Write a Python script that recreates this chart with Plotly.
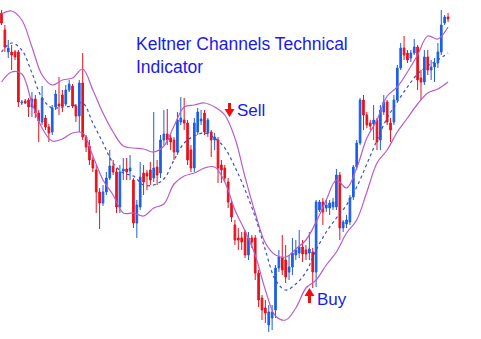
import plotly.graph_objects as go

# ---- candle data (price units) ----
opens = [327,310,288,288,288,288,237,239,240,233,241,227,218,222,213,208,233,236,245,236,
         250,254,234,224,257,203,194,180,170,148,137,148,162,174,168,133,169,171,169,160,
         117,133,167,167,170,162,173,167,200,206,202,200,188,218,220,217,190,172,208,219,
         227,207,208,200,200,175,172,158,137,115,102,102,108,85,102,102,67,42,32,15,
         22,30,72,82,80,68,73,85,87,93,90,87,88,68,130,138,132,132,133,133,
         165,112,116,118,143,173,197,240,225,217,216,220,200,228,238,217,218,240,272,292,
         287,282,287,293,262,258,283,270,273,277,288,317,323]
highs = [330,315,300,295,290,290,240,241,242,248,245,230,254,225,216,235,250,263,250,255,
         260,256,236,260,287,205,200,183,175,152,155,168,190,180,172,175,182,182,185,162,
         140,178,175,170,178,228,180,205,230,231,205,203,228,243,242,220,195,222,232,230,
         230,222,210,207,203,180,175,162,140,120,112,108,110,108,105,105,70,45,40,35,
         35,75,90,105,95,85,102,100,110,100,95,108,92,140,140,142,140,140,142,171,
         168,120,125,145,175,200,242,245,228,220,235,222,235,245,240,222,245,275,297,304,
         290,290,301,295,270,290,290,280,282,297,330,325,327]
lows = [315,288,282,270,280,233,235,236,223,223,222,198,215,210,198,205,230,225,228,234,
        248,232,218,208,200,188,175,168,127,111,134,145,160,165,127,127,160,160,160,112,
        102,130,145,150,155,158,155,162,195,195,190,180,185,215,210,175,168,168,205,215,
        205,203,183,190,157,157,158,132,118,95,90,90,82,80,92,60,33,20,17,8,
        10,22,68,65,57,60,65,80,82,78,80,80,52,53,128,115,128,125,130,130,
        100,108,112,115,140,170,195,210,212,210,200,190,190,225,215,198,215,238,270,280,
        277,278,285,250,240,255,265,260,258,272,285,315,318]
closes = [317,293,292,285,283,238,238,237,233,241,227,219,242,213,207,232,246,234,234,250,
          256,234,224,257,203,193,180,172,148,137,148,162,174,168,133,168,171,168,172,117,
          135,163,158,164,160,172,165,200,206,200,198,188,220,222,217,180,172,217,228,221,
          208,220,200,203,172,170,162,138,123,100,100,98,85,102,98,67,40,30,27,28,
          28,72,83,70,63,73,87,90,93,86,86,91,68,138,138,128,135,137,138,165,
          112,118,120,142,173,197,240,225,215,214,220,198,230,238,218,210,240,272,292,285,
          280,287,293,260,258,283,270,273,277,288,315,323,321]

# ---- Keltner channel lines, read at every third candle ----
band_idx = list(range(0, 133, 3))
upper = [326,329,320,293,265,255,260,262,271,250,227,208,194,192,191,188,194,214,233,235,
         237,233,225,202,163,127,97,85,83,91,100,118,140,160,152,172,202,220,244,253,
         268,285,304,301,313]
middle = [288,297,290,267,242,232,233,234,237,217,197,177,167,164,155,155,161,180,197,204,
          207,202,192,173,150,123,90,60,50,56,68,90,108,122,135,153,176,200,222,238,
          253,266,274,280,287]
lower = [258,268,266,237,212,199,201,207,207,184,160,145,127,127,124,132,136,156,164,167,
         172,173,158,130,109,85,50,24,20,32,52,60,75,88,107,120,148,177,190,208,
         222,236,247,251,258]

idx = list(range(len(opens)))

RED = "#e8121c"
BLUE = "#1c5ee8"
BAND = "#b85ccc"
MID = "#3c50c8"

fig = go.Figure()
fig.add_trace(go.Candlestick(
    x=idx, open=opens, high=highs, low=lows, close=closes,
    increasing=dict(line=dict(color=BLUE, width=1), fillcolor=BLUE),
    decreasing=dict(line=dict(color=RED, width=1), fillcolor=RED),
    whiskerwidth=0, showlegend=False, hoverinfo="skip"))
fig.add_trace(go.Scatter(x=band_idx, y=upper, mode="lines",
                         line=dict(color=BAND, width=1.2, shape="spline"), showlegend=False))
fig.add_trace(go.Scatter(x=band_idx, y=lower, mode="lines",
                         line=dict(color=BAND, width=1.2, shape="spline"), showlegend=False))
fig.add_trace(go.Scatter(x=band_idx, y=middle, mode="lines",
                         line=dict(color=MID, width=1.2, dash="dot", shape="spline"), showlegend=False))

W, H = 481, 339
def px(x):
    return x / W
def py(y):
    return 1 - y / H

TXT = "#1a1aee"
FONT = "Liberation Sans, Arial"
ann = [
    dict(text="Keltner Channels Technical<br>Indicator", x=px(135), y=py(33),
         xanchor="left", yanchor="top", align="left", borderpad=0,
         font=dict(size=17.5, color=TXT, family=FONT)),
    dict(text="Sell", x=px(235), y=py(99), xanchor="left", yanchor="top",
         font=dict(size=17, color=TXT, family=FONT)),
    dict(text="Buy", x=px(315), y=py(288), xanchor="left", yanchor="top",
         font=dict(size=17, color=TXT, family=FONT)),
]
for a in ann:
    a.update(xref="paper", yref="paper", showarrow=False)


def poly(points):
    return "M " + " L ".join(f"{px(x):.5f},{py(y):.5f}" for x, y in points) + " Z"

ARROW = "#ee1010"
# down arrow next to "Sell"
sell_arrow = [(228, 103), (231, 103), (231, 109), (234.5, 109), (229.5, 117),
              (224.5, 109), (228, 109)]
# up arrow next to "Buy"
buy_arrow = [(308, 303), (311, 303), (311, 296), (314.5, 296), (309.5, 288),
             (304.5, 296), (308, 296)]
shapes = [dict(type="path", path=poly(p), xref="paper", yref="paper",
               fillcolor=ARROW, line=dict(width=0)) for p in (sell_arrow, buy_arrow)]

fig.update_layout(
    width=W, height=H, margin=dict(l=0, r=0, t=0, b=0),
    paper_bgcolor="white", plot_bgcolor="white",
    xaxis=dict(range=[-0.443, 141.74], visible=False, rangeslider=dict(visible=False), fixedrange=True),
    yaxis=dict(range=[1, 340], visible=False, fixedrange=True),
    annotations=ann, shapes=shapes, showlegend=False,
)
fig.write_html("out.html")
